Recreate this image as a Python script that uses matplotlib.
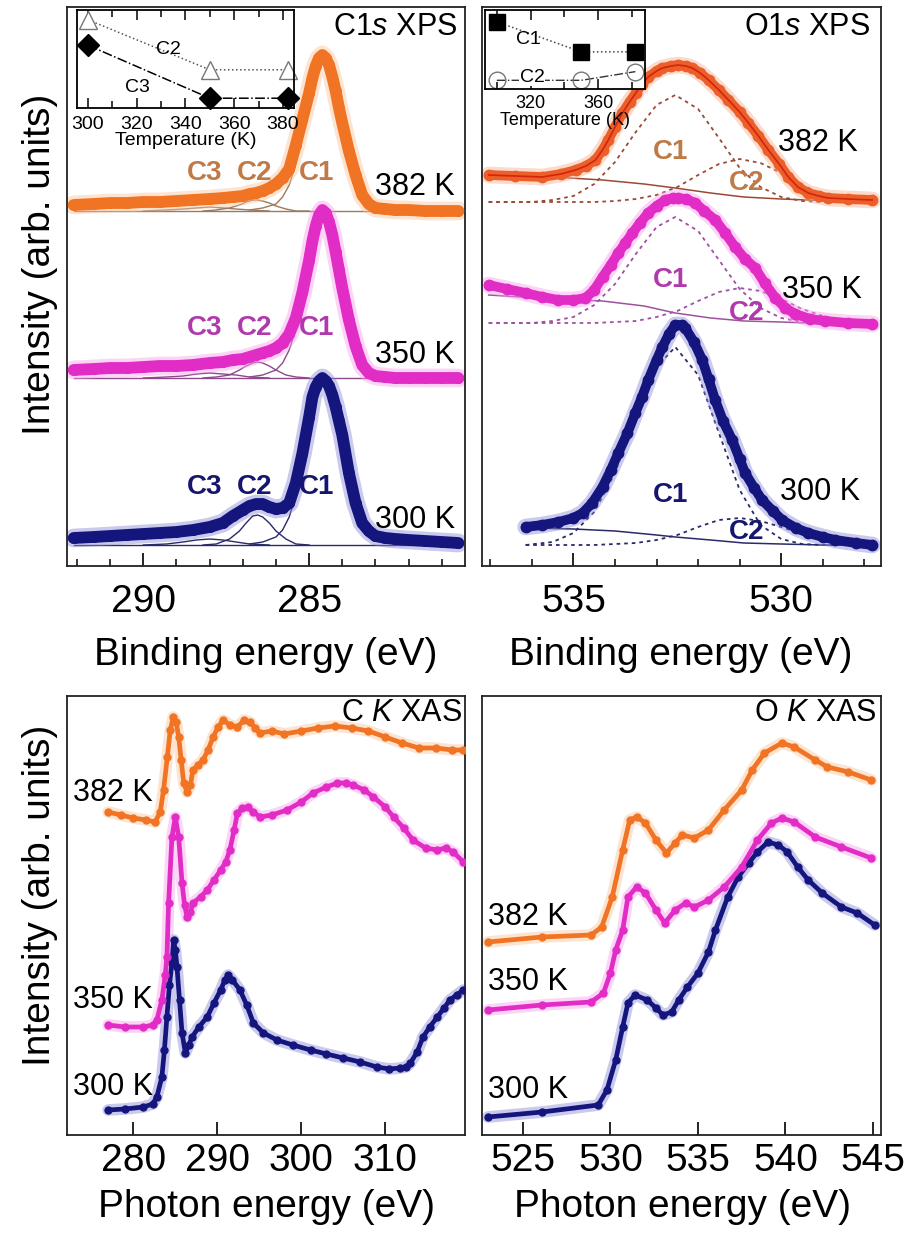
import matplotlib
matplotlib.use("Agg")
import matplotlib.pyplot as plt
from matplotlib import font_manager
from matplotlib.ticker import MultipleLocator, FixedLocator, NullLocator

# ---- fonts: annotations in Arial-like, axis text in a narrow face if present ----
plt.rcParams['font.family'] = ['Liberation Sans', 'DejaVu Sans']
plt.rcParams['mathtext.fontset'] = 'custom'
plt.rcParams['mathtext.rm'] = 'Liberation Sans'
plt.rcParams['mathtext.it'] = 'Liberation Sans:italic'
names = {f.name for f in font_manager.fontManager.ttflist}
if 'Liberation Sans Narrow' in names:
    AX_FAM, AX_SIZE = 'Liberation Sans Narrow', 33
else:
    AX_FAM, AX_SIZE = 'Liberation Sans', 28

W, H = 910, 1234

# ---------------- data ----------------
temps = ["300 K", "350 K", "382 K"]
col = ["#15157e", "#e22cc6", "#f07424"]
glow = ["#8a8ad8", "#f7a0ec", "#f9c49a"]
comp_col = ["#2a2a6a", "#8c4a8c", "#9a7a60"]
lab_col = ["#16166e", "#b03aac", "#c07a48"]

# C1s XPS (intensity above each spectrum's baseline)
c1s_E = [292.1, 291.5, 291.0, 290.5, 290.0, 289.5, 289.0, 288.5, 288.0, 287.6,
         287.3, 287.0, 286.8, 286.6, 286.4, 286.2, 286.0, 285.8, 285.6, 285.4,
         285.2, 285.0, 284.9, 284.8, 284.7, 284.6, 284.5, 284.4, 284.3, 284.2,
         284.1, 284.0, 283.8, 283.6, 283.4, 283.2, 283.0, 282.7, 282.4, 282.0,
         281.5, 281.0, 280.5]
c1s_300 = [7, 8, 9, 10, 11, 12, 13, 15, 18, 22,
           29, 35, 39, 41, 41, 38, 36, 37, 42, 62,
           92, 128, 148, 158, 164, 167, 164, 159, 150, 138,
           124, 110, 72, 42, 22, 14, 9, 7, 6, 5,
           4, 3, 2]
c1s_350 = [8, 9, 10, 10, 11, 12, 12, 13, 15, 16,
           18, 19, 21, 23, 25, 27, 30, 35, 44, 60,
           86, 118, 137, 152, 163, 168, 165, 156, 143, 126,
           108, 90, 58, 32, 13, 5, 2, 1, 0, 0,
           0, 0, 0]
c1s_382 = [6, 7, 8, 8, 9, 9, 10, 11, 12, 13,
           14, 15, 17, 18, 20, 23, 27, 33, 42, 66,
           92, 118, 133, 145, 153, 156, 153, 146, 134, 120,
           103, 88, 60, 36, 16, 7, 3, 2, 1, 1,
           0, 0, 0]
c1s_base_E = [292.1, 280.5]
c1s_c1_E = [286.8, 286.4, 286.0, 285.8, 285.6, 285.4, 285.2, 285.0, 284.8, 284.6,
            284.4, 284.2, 284.0, 283.8, 283.6, 283.4, 283.2, 283.0, 282.6, 282.2]
c1s_c1 = [[1, 3, 8, 15, 28, 50, 82, 118, 153, 165, 157, 133, 106, 70, 41, 21, 11, 6, 2, 0],
          [1, 3, 8, 15, 28, 49, 80, 116, 152, 167, 158, 134, 106, 68, 38, 19, 9, 4, 1, 0],
          [1, 3, 7, 14, 26, 47, 77, 110, 143, 154, 147, 124, 99, 65, 38, 20, 10, 6, 2, 0]]
c1s_c2_E = [288.2, 287.8, 287.4, 287.1, 286.9, 286.7, 286.55, 286.4, 286.2, 286.0, 285.7, 285.4, 285.0]
c1s_c2 = [[0, 1, 6, 14, 22, 29, 30, 28, 22, 14, 6, 1, 0],
          [0, 1, 3, 8, 12, 15, 16, 15, 12, 8, 3, 1, 0],
          [0, 1, 3, 6, 9, 11, 11, 10, 8, 5, 2, 0, 0]]
c1s_c3_E = [290.0, 289.3, 288.8, 288.4, 288.0, 287.6, 287.2, 286.8, 286.2]
c1s_c3 = [[0, 1, 3, 5, 6, 5, 3, 1, 0],
          [0, 1, 2, 4, 5, 4, 3, 1, 0],
          [0, 1, 2, 3, 4, 3, 2, 1, 0]]
c1s_offset = [21, 188, 355]

# O1s XPS
o1s_E_300 = [536.15, 535.75, 535.36, 535.0, 534.78, 534.55, 534.3, 534.1, 533.92, 533.7,
             533.51, 533.35, 533.2, 533.0, 532.86, 532.7, 532.55, 532.4, 532.31, 532.1,
             531.9, 531.75, 531.59, 531.4, 531.18, 531.0, 530.87, 530.65, 530.46, 530.2,
             529.98, 529.65, 529.35, 529.0, 528.7, 528.2, 527.81]
o1s_300 = [18, 20, 23, 27, 32, 42, 58, 75, 92, 112,
           132, 148, 165, 185, 198, 211, 220, 220, 217, 203,
           185, 166, 145, 124, 105, 86, 72, 57, 45, 34,
           25, 17, 12, 8, 5, 2, 0]
o1s_E_350 = [537.04, 536.6, 536.15, 535.75, 535.36, 535.0, 534.71, 534.5, 534.3, 534.1,
             533.92, 533.75, 533.58, 533.4, 533.2, 533.0, 532.79, 532.6, 532.48, 532.3,
             532.07, 531.85, 531.59, 531.35, 531.11, 530.87, 530.63, 530.4, 530.14, 529.9,
             529.66, 529.3, 528.94, 528.4, 527.81]
o1s_350 = [38, 34, 30, 26, 23, 23, 25, 33, 46, 58,
           70, 80, 90, 100, 110, 117, 123, 125, 125, 124,
           120, 112, 103, 90, 76, 64, 55, 40, 25, 15,
           9, 4, 2, 0, -1]
o1s_E_382 = [537.04, 536.4, 535.75, 535.3, 534.95, 534.7, 534.47, 534.3, 534.16, 534.0,
             533.82, 533.65, 533.5, 533.35, 533.2, 533.0, 532.86, 532.65, 532.48, 532.3,
             532.14, 531.95, 531.75, 531.5, 531.27, 531.0, 530.79, 530.55, 530.31, 530.05,
             529.83, 529.6, 529.35, 529.1, 528.87, 528.4, 527.81]
o1s_382 = [27, 26, 25, 28, 32, 36, 42, 52, 62, 75,
           89, 100, 109, 118, 125, 131, 134, 136, 137, 136,
           134, 129, 122, 112, 102, 90, 79, 66, 52, 38,
           25, 15, 9, 6, 4, 3, 2]
o1s_bg_E = [[536.15, 535.0, 534.0, 533.0, 532.55, 531.7, 530.9, 530.0, 529.0, 527.81],
            [537.04, 535.5, 534.3, 533.3, 532.55, 531.7, 530.9, 530.0, 529.35, 528.5, 527.81],
            [537.04, 535.5, 534.3, 533.3, 532.55, 531.7, 530.9, 530.0, 529.35, 528.5, 527.81]]
o1s_bg = [[17, 16, 14, 10, 8, 5, 2, 1, 0, 0],
          [28, 24, 22, 17, 10, 5, 2, 1, 0, 0, 0],
          [27, 25, 22, 18, 14, 9, 5, 3, 2, 1, 0]]
o1s_c1_E = [[536.15, 535.5, 535.0, 534.5, 534.0, 533.5, 533.0, 532.55, 532.0, 531.5,
             531.0, 530.5, 530.0, 529.5, 529.0, 528.5, 527.81],
            [537.04, 536.5, 536.0, 535.5, 535.0, 534.5, 534.0, 533.5, 533.0, 532.55,
             532.0, 531.5, 531.0, 530.5, 530.0, 529.5, 529.0, 528.5, 527.81],
            [537.04, 536.5, 536.0, 535.5, 535.0, 534.5, 534.0, 533.5, 533.0, 532.55,
             532.0, 531.5, 531.0, 530.5, 530.0, 529.5, 529.0, 528.5, 527.81]]
o1s_c1 = [[0, 3, 12, 33, 72, 128, 178, 198, 170, 112, 55, 20, 6, 1, 0, 0, 0],
          [0, 0, 0, 2, 6, 18, 39, 69, 96, 106, 92, 63, 34, 15, 5, 1, 0, 0, 0],
          [0, 0, 0, 2, 6, 18, 40, 70, 97, 107, 93, 64, 34, 15, 5, 1, 0, 0, 0]]
o1s_c2_E = [[536.15, 534.5, 534.0, 533.5, 533.0, 532.5, 532.0, 531.5, 531.0, 530.5,
             530.0, 529.5, 529.0, 528.5, 528.0, 527.81],
            [537.04, 534.5, 534.0, 533.5, 533.0, 532.5, 532.0, 531.5, 531.0, 530.5,
             530.0, 529.5, 529.0, 528.5, 528.0, 527.81],
            [537.04, 534.5, 534.0, 533.5, 533.0, 532.5, 532.0, 531.5, 531.0, 530.5,
             530.0, 529.5, 529.0, 528.5, 528.0, 527.81]]
o1s_c2 = [[0, 0, 1, 2, 5, 10, 18, 25, 27, 24, 18, 11, 5, 2, 1, 0],
          [0, 0, 1, 2, 6, 12, 22, 31, 35, 32, 24, 14, 7, 2, 1, 0],
          [0, 0, 1, 3, 7, 15, 27, 38, 43, 39, 29, 17, 8, 3, 1, 0]]
o1s_offset = [21, 243, 364]

# C K XAS (intensity, arb. units)
ck_E_300 = [277.0, 279.0, 281.2, 282.3, 282.8, 283.4, 283.7, 284.0, 284.3, 284.6,
            284.8, 285.0, 285.2, 285.5, 285.8, 286.2, 286.6, 287.0, 287.8, 288.8,
            289.6, 290.4, 290.9, 291.3, 291.8, 292.7, 293.5, 294.3, 295.5, 297.1,
            299.0, 301.1, 303.0, 305.0, 307.0, 309.0, 310.5, 311.8, 312.5, 313.0,
            313.8, 314.5, 315.3, 316.2, 317.0, 317.7, 318.5, 319.3]
ck_300 = [25, 26, 28, 31, 38, 58, 85, 118, 150, 172,
          195, 185, 168, 135, 102, 82, 90, 98, 108, 118,
          132, 145, 155, 160, 155, 145, 130, 112, 102, 95,
          90, 85, 81, 77, 73, 68, 66, 67, 68, 72,
          83, 98, 108, 118, 127, 135, 140, 145]
ck_E_350 = [277.0, 279.0, 281.2, 282.3, 282.8, 283.4, 283.8, 284.0, 284.2, 284.6,
            285.0, 285.4, 285.8, 286.1, 286.4, 286.8, 287.1, 288.0, 288.8, 289.6,
            290.4, 291.0, 291.5, 292.0, 292.4, 293.0, 293.6, 294.3, 295.1, 296.5,
            298.3, 300.0, 301.4, 303.0, 304.3, 305.3, 306.2, 307.5, 308.6, 310.0,
            311.0, 312.2, 313.3, 314.8, 316.2, 317.2, 318.1, 319.3]
ck_350 = [110, 108, 108, 110, 115, 135, 160, 178, 232, 298,
          318, 298, 252, 230, 218, 223, 232, 238, 245, 255,
          265, 273, 285, 305, 322, 327, 328, 323, 318, 320,
          325, 333, 342, 348, 352, 352, 350, 345, 338, 328,
          318, 307, 295, 287, 285, 287, 283, 273]
ck_E_382 = [277.0, 278.5, 280.0, 281.5, 282.6, 283.2, 283.6, 284.05, 284.4, 284.76,
            285.1, 285.4, 285.7, 286.0, 286.4, 286.8, 287.1, 287.7, 288.3, 288.9,
            289.5, 290.1, 290.7, 291.5, 292.4, 293.2, 293.9, 294.5, 295.1, 296.5,
            298.0, 300.0, 302.0, 304.0, 306.0, 308.0, 310.0, 312.0, 314.0, 316.0,
            318.0, 319.3]
ck_382 = [323, 320, 317, 315, 313, 323, 345, 378, 405, 418,
          413, 398, 375, 352, 343, 350, 365, 370, 375, 385,
          398, 408, 415, 410, 408, 415, 413, 407, 402, 404,
          401, 404, 407, 409, 407, 404, 398, 392, 387, 387,
          385, 385]

# O K XAS
ok_E_300 = [523.0, 526.1, 529.3, 529.8, 530.3, 530.7, 531.0, 531.4, 532.1, 532.6,
            533.0, 533.5, 533.9, 534.4, 535.0, 535.6, 536.0, 536.7, 537.3, 537.9,
            538.4, 539.0, 539.6, 540.1, 540.7, 541.3, 542.1, 543.2, 544.1, 545.1]
ok_300 = [18, 23, 30, 45, 75, 108, 132, 140, 135, 127,
          120, 123, 135, 148, 162, 183, 205, 238, 258, 272,
          283, 293, 290, 283, 268, 255, 242, 228, 222, 210]
ok_E_350 = [523.0, 526.1, 528.9, 529.6, 530.0, 530.3, 530.7, 531.0, 531.5, 532.0,
            532.6, 533.1, 533.7, 534.3, 534.8, 535.6, 536.5, 537.5, 538.4, 539.2,
            539.8, 540.5, 541.7, 543.2, 544.9]
ok_350 = [125, 130, 133, 142, 162, 185, 205, 238, 248, 242,
          225, 212, 225, 232, 228, 235, 248, 268, 295, 312,
          317, 313, 298, 288, 277]
ok_E_382 = [523.0, 526.1, 528.9, 529.5, 530.1, 530.7, 531.1, 531.5, 532.0, 532.6,
            533.2, 533.7, 534.1, 534.8, 535.6, 536.5, 537.5, 538.1, 538.8, 539.8,
            540.5, 541.7, 542.4, 543.6, 544.9]
ok_382 = [193, 198, 200, 208, 238, 285, 315, 318, 312, 295,
          282, 292, 300, 297, 305, 325, 345, 365, 382, 392,
          388, 375, 368, 363, 355]

# inset data: component weight vs temperature
inset_T = [300, 350, 382]
c1s_w_C2 = [0.90, 0.39, 0.39]
c1s_w_C3 = [0.64, 0.10, 0.10]
o1s_w_C1 = [0.85, 0.47, 0.47]
o1s_w_C2 = [0.11, 0.11, 0.22]


def fx(x):
    return x / W


def fy(y):
    return 1 - y / H


def box(x0, y0, x1, y1):
    return [fx(x0), fy(y1), (x1 - x0) / W, (y1 - y0) / H]


def thick(ax, x, y, c, g, lw, ms):
    ax.plot(x, y, color=g, lw=lw + 5, alpha=0.45, solid_capstyle='round',
            solid_joinstyle='round', zorder=2)
    ax.plot(x, y, color=c, lw=lw, solid_capstyle='round', solid_joinstyle='round',
            marker='o', ms=ms, mec=c, mfc=c, zorder=3)


def style_main(ax, major, minor, pad):
    for s in ax.spines.values():
        s.set_linewidth(1.3)
        s.set_color('#222222')
    ax.yaxis.set_major_locator(NullLocator())
    ax.xaxis.set_major_locator(FixedLocator(major))
    if minor:
        ax.xaxis.set_minor_locator(MultipleLocator(minor))
    ax.tick_params(axis='x', which='major', direction='in', length=9.5, width=1.2,
                   pad=pad, labelsize=AX_SIZE, labelfontfamily=AX_FAM)
    ax.tick_params(axis='x', which='minor', direction='in', length=5, width=1.1)


fig = plt.figure(figsize=(W / 100, H / 100), dpi=100)

# ---------------- C1s XPS ----------------
ax = fig.add_axes(box(67, 7, 465, 566))
ax.set_xlim(292.3, 280.3)
ax.set_ylim(0, 559)
c1s_tot = [c1s_300, c1s_350, c1s_382]
for i in range(3):
    off = c1s_offset[i]
    ax.plot(c1s_base_E, [off, off], color=comp_col[i], lw=1.0, zorder=1.5)
    for ex, vals in ((c1s_c1_E, c1s_c1[i]), (c1s_c2_E, c1s_c2[i]), (c1s_c3_E, c1s_c3[i])):
        ax.plot(ex, [v + off for v in vals], color=comp_col[i], lw=1.0, zorder=1.5)
    thick(ax, c1s_E, [v + off for v in c1s_tot[i]], col[i], glow[i], 8.5, 7)
style_main(ax, [290, 285], 1, 13)

# ---------------- O1s XPS ----------------
ax2 = fig.add_axes(box(482, 7, 881, 566))
ax2.set_xlim(537.2, 527.6)
ax2.set_ylim(0, 559)
o1s_E = [o1s_E_300, o1s_E_350, o1s_E_382]
o1s_tot = [o1s_300, o1s_350, o1s_382]
o1s_col = ["#15157e", "#e22cc6", "#ec5e2a"]
o1s_glow = ["#8a8ad8", "#f7a0ec", "#f6b08e"]
o1s_comp = ["#2a2a6a", "#a050a0", "#9a4a34"]
for i in range(3):
    off = o1s_offset[i]
    thick(ax2, o1s_E[i], [v + off for v in o1s_tot[i]], o1s_col[i], o1s_glow[i], 7, 7.5)
    if i == 2:
        ax2.plot(o1s_E[i], [v + off for v in o1s_tot[i]], color='#d3240c', lw=1.2, zorder=4)
    ax2.plot(o1s_bg_E[i], [v + off for v in o1s_bg[i]], color=o1s_comp[i], lw=1.1, zorder=1.5)
    ax2.plot(o1s_c1_E[i], [v + off for v in o1s_c1[i]], color=o1s_comp[i], lw=1.3,
             ls=(0, (2, 2.2)), zorder=1.5)
    ax2.plot(o1s_c2_E[i], [v + off for v in o1s_c2[i]], color=o1s_comp[i], lw=1.3,
             ls=(0, (2, 2.2)), zorder=1.5)
style_main(ax2, [535, 530], 1, 13)

# ---------------- C K XAS ----------------
ax3 = fig.add_axes(box(67, 696, 465, 1135))
ax3.set_xlim(272.1, 319.5)
ax3.set_ylim(0, 439)
for ex, vals, i in ((ck_E_300, ck_300, 0), (ck_E_350, ck_350, 1), (ck_E_382, ck_382, 2)):
    thick(ax3, ex, vals, col[i], glow[i], 3.4, 5)
style_main(ax3, [280, 290, 300, 310], None, 6)

# ---------------- O K XAS ----------------
ax4 = fig.add_axes(box(482, 696, 881, 1135))
ax4.set_xlim(522.66, 545.46)
ax4.set_ylim(0, 439)
for ex, vals, i in ((ok_E_300, ok_300, 0), (ok_E_350, ok_350, 1), (ok_E_382, ok_382, 2)):
    thick(ax4, ex, vals, col[i], glow[i], 3.4, 5)
style_main(ax4, [525, 530, 535, 540, 545], None, 6)

# ---------------- insets ----------------
in1 = fig.add_axes(box(77, 10, 294, 108))
in1.set_xlim(295.5, 384.5)
in1.set_ylim(0, 1)
in1.plot(inset_T, c1s_w_C2, ls=':', color='#555555', lw=1.1, marker='^', ms=13,
         mfc='white', mec='#777777', mew=1.0, clip_on=False)
in1.plot(inset_T, c1s_w_C3, ls='-.', color='black', lw=1.1, marker='D', ms=11,
         mfc='black', mec='black', clip_on=False)
in1.xaxis.set_major_locator(MultipleLocator(20))
in1.xaxis.set_minor_locator(MultipleLocator(10))
in1.set_xlabel("Temperature (K)", fontsize=14, labelpad=-1)

in2 = fig.add_axes(box(485, 10, 645, 89))
in2.set_xlim(293, 387.7)
in2.set_ylim(0, 1)
in2.plot(inset_T, o1s_w_C1, ls=':', color='#444444', lw=1.1, marker='s', ms=11,
         mfc='black', mec='black', clip_on=False)
in2.plot(inset_T, o1s_w_C2, ls='-.', color='#333333', lw=1.0, marker='o', ms=12,
         mfc='none', mec='#777777', mew=1.0, clip_on=False)
in2.xaxis.set_major_locator(MultipleLocator(40))
in2.xaxis.set_minor_locator(MultipleLocator(20))
in2.set_xlabel("Temperature (K)", fontsize=13, labelpad=0)

for a, p, fs in ((in1, 6, 14), (in2, 4, 13)):
    a.set_facecolor('white')
    a.yaxis.set_major_locator(NullLocator())
    for s in a.spines.values():
        s.set_linewidth(1.3)
    a.tick_params(axis='x', which='both', direction='in', top=True, bottom=True,
                  length=7, width=1.1, pad=p, labelsize=fs)
    a.tick_params(axis='x', which='minor', length=5)

# ---------------- text ----------------
big = dict(family=AX_FAM, size=AX_SIZE)
fig.text(fx(40), fy(264), "Intensity (arb. units)", rotation=90, ha='center', va='center', **big)
fig.text(fx(40), fy(895), "Intensity (arb. units)", rotation=90, ha='center', va='center', **big)
fig.text(fx(266), fy(655), "Binding energy (eV)", ha='center', va='center', **big)
fig.text(fx(681), fy(655), "Binding energy (eV)", ha='center', va='center', **big)
fig.text(fx(267), fy(1207), "Photon energy (eV)", ha='center', va='center', **big)
fig.text(fx(682), fy(1207), "Photon energy (eV)", ha='center', va='center', **big)

fig.text(fx(457), fy(27), r"C1$\mathit{s}$ XPS", ha='right', va='center', fontsize=22)
fig.text(fx(870), fy(27), r"O1$\mathit{s}$ XPS", ha='right', va='center', fontsize=22)
fig.text(fx(462), fy(713), r"C $\mathit{K}$ XAS", ha='right', va='center', fontsize=22)
fig.text(fx(877), fy(713), r"O $\mathit{K}$ XAS", ha='right', va='center', fontsize=22)

# temperature labels
for x, y, t in ((415, 187, temps[2]), (415, 355, temps[1]), (415, 520, temps[0]),
                (818, 143, temps[2]), (822, 290, temps[1]), (820, 492, temps[0])):
    fig.text(fx(x), fy(y), t, ha='center', va='center', fontsize=22)
for x, y, t in ((73, 793, temps[2]), (73, 1000, temps[1]), (73, 1087, temps[0]),
                (488, 917, temps[2]), (488, 982, temps[1]), (488, 1090, temps[0])):
    fig.text(fx(x), fy(y), t, ha='left', va='center', fontsize=22)

# component labels
for i, y in ((2, 173), (1, 328), (0, 487)):
    for x, t in ((205, "C3"), (255, "C2"), (317, "C1")):
        fig.text(fx(x), fy(y), t, ha='center', va='center', fontsize=20,
                 fontweight='bold', color=lab_col[i])
for i, y1, y2 in ((2, 152, 183), (1, 280, 313), (0, 495, 532)):
    fig.text(fx(671), fy(y1), "C1", ha='center', va='center', fontsize=20,
             fontweight='bold', color=lab_col[i])
    fig.text(fx(747), fy(y2), "C2", ha='center', va='center', fontsize=20,
             fontweight='bold', color=lab_col[i])

# inset labels
fig.text(fx(168), fy(50), "C2", ha='center', va='center', fontsize=14)
fig.text(fx(137), fy(88), "C3", ha='center', va='center', fontsize=14)
fig.text(fx(528), fy(40), "C1", ha='center', va='center', fontsize=14)
fig.text(fx(532), fy(77), "C2", ha='center', va='center', fontsize=14,
         bbox=dict(facecolor='white', edgecolor='none', pad=0.5))

fig.savefig("out.png", dpi=100)
